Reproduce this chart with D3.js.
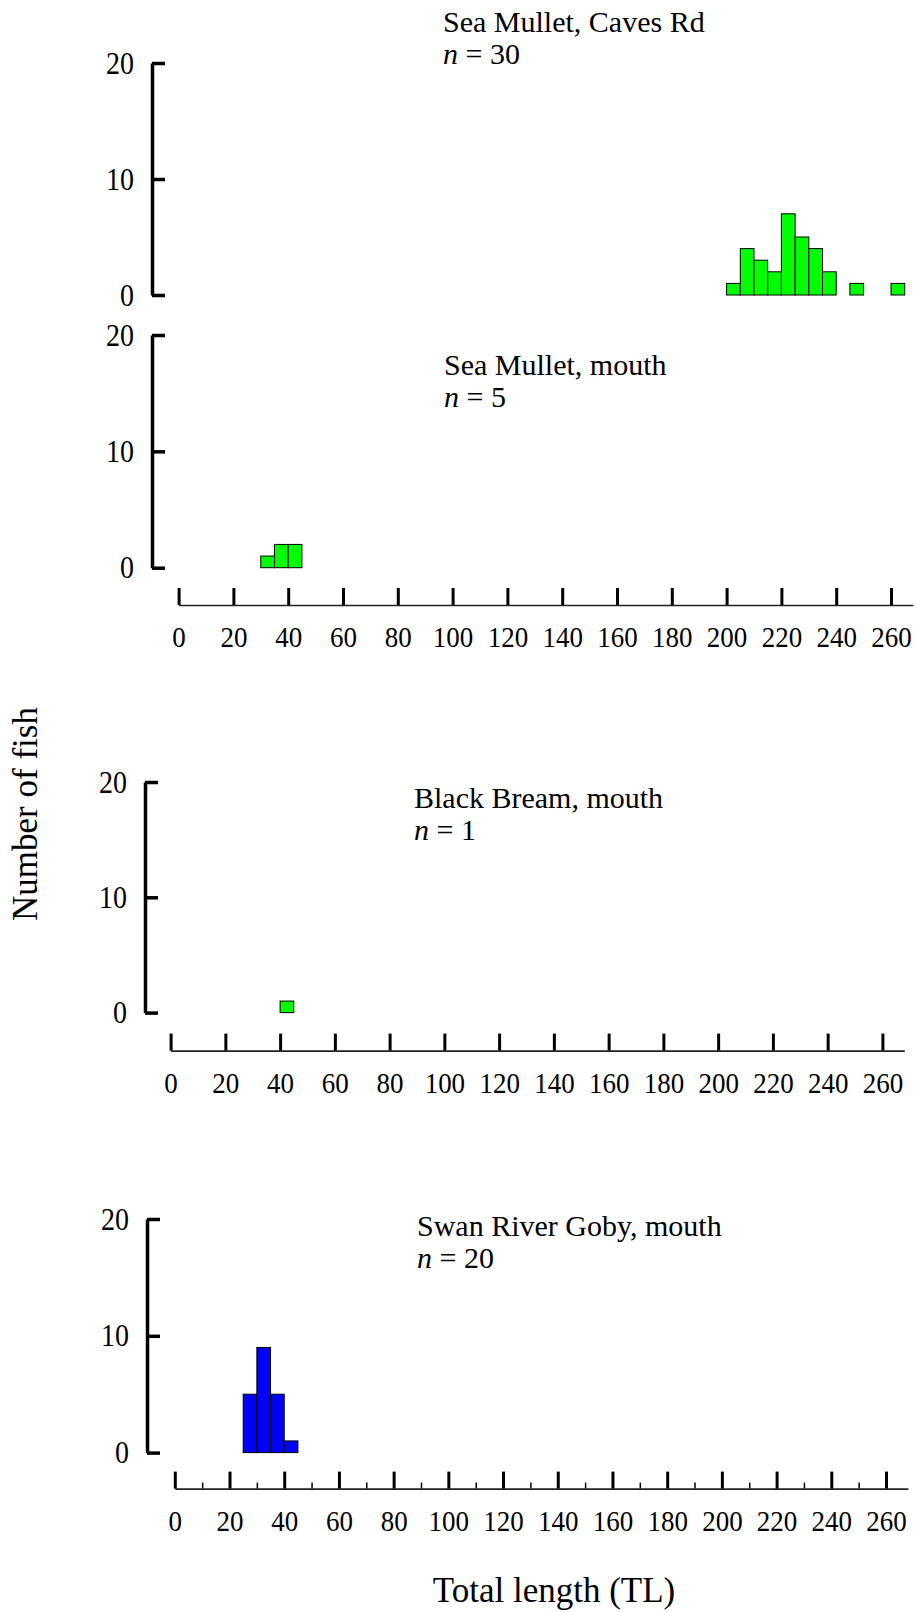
<!DOCTYPE html>
<html>
<head>
<meta charset="utf-8">
<script src="https://cdn.jsdelivr.net/npm/d3@7"></script>
<style>
  body { margin: 0; background: #fff; }
  svg text { font-family: "Liberation Serif", "Times New Roman", serif; fill: #000; }
</style>
</head>
<body>
<div id="chart"></div>
<script>
// length-frequency data, 5 mm bins (bin start -> number of fish)
const binWidth = 5;
const cavesRdBins = [200, 205, 210, 215, 220, 225, 230, 235, 245, 260];
const cavesRdCounts = [1, 4, 3, 2, 7, 5, 4, 2, 1, 1];
const mulletMouthBins = [30, 35, 40];
const mulletMouthCounts = [1, 2, 2];
const breamMouthBins = [40];
const breamMouthCounts = [1];
const gobyMouthBins = [25, 30, 35, 40];
const gobyMouthCounts = [5, 9, 5, 1];

const panelTitles = ["Sea Mullet, Caves Rd", "Sea Mullet, mouth", "Black Bream, mouth", "Swan River Goby, mouth"];
const panelN = [30, 5, 1, 20];
const xTicks = [0, 20, 40, 60, 80, 100, 120, 140, 160, 180, 200, 220, 240, 260];
const xMinorTicks = [10, 30, 50, 70, 90, 110, 130, 150, 170, 190, 210, 230, 250];
const yTicks = [0, 10, 20];

const width = 916, height = 1612;

// page layout for each panel
const panels = [
  { bins: cavesRdBins, counts: cavesRdCounts, color: "#00ff00", yAxisX: 152, y0: 295, y20: 63, x0: 178.6, x260: 891, xAxisY: null, minor: false, titleX: 443, titleY: 32 },
  { bins: mulletMouthBins, counts: mulletMouthCounts, color: "#00ff00", yAxisX: 152, y0: 567.7, y20: 335, x0: 178.6, x260: 891, xAxisY: 605, minor: false, titleX: 444, titleY: 375 },
  { bins: breamMouthBins, counts: breamMouthCounts, color: "#00ff00", yAxisX: 145, y0: 1012.6, y20: 782, x0: 170.6, x260: 882.4, xAxisY: 1050.6, minor: false, titleX: 414, titleY: 808 },
  { bins: gobyMouthBins, counts: gobyMouthCounts, color: "#0000ff", yAxisX: 147, y0: 1452.6, y20: 1219, x0: 174.8, x260: 886, xAxisY: 1488.6, minor: true, titleX: 417, titleY: 1236 }
];

const svg = d3.select("#chart").append("svg")
  .attr("width", width)
  .attr("height", height);

panels.forEach(function(p, i) {
  const k = (p.x260 - p.x0) / 260;
  const x = d3.scaleLinear().domain([0, 268]).range([p.x0, p.x0 + 268 * k]);
  const y = d3.scaleLinear().domain([0, 20]).range([p.y0, p.y20]);

  const g = svg.append("g").attr("class", "panel");

  // bars
  g.selectAll("rect.bar")
    .data(p.bins.map(function(b, j) { return { start: b, count: p.counts[j] }; }))
    .enter().append("rect")
    .attr("class", "bar")
    .attr("x", function(d) { return x(d.start); })
    .attr("y", function(d) { return y(d.count); })
    .attr("width", function(d) { return x(d.start + binWidth) - x(d.start); })
    .attr("height", function(d) { return y(0) - y(d.count); })
    .style("fill", p.color)
    .style("stroke", "#000")
    .style("stroke-width", 1);

  // y axis
  const yAxis = g.append("g")
    .attr("transform", "translate(" + p.yAxisX + ",0)")
    .call(d3.axisLeft(y).tickValues(yTicks).tickSizeInner(-13).tickSizeOuter(0).tickPadding(18));
  yAxis.select(".domain").attr("stroke", "#000").attr("stroke-width", 3.5);
  yAxis.selectAll(".tick line").attr("stroke", "#000").attr("stroke-width", 3.5);
  yAxis.selectAll(".tick text")
    .style("font-size", "28px")
    .attr("x", null).attr("dy", null)
    .attr("transform", "translate(-18,10) scale(1,1.1)");

  // x axis
  if (p.xAxisY !== null) {
    if (p.minor) {
      g.append("g")
        .attr("transform", "translate(0," + p.xAxisY + ")")
        .call(d3.axisBottom(x).tickValues(xMinorTicks).tickSizeInner(-6).tickSizeOuter(0).tickFormat(""))
        .call(function(a) {
          a.select(".domain").remove();
          a.selectAll(".tick line").attr("stroke", "#000").attr("stroke-width", 1.5);
        });
    }
    const xAxis = g.append("g")
      .attr("transform", "translate(0," + p.xAxisY + ")")
      .call(d3.axisBottom(x).tickValues(xTicks).tickSizeInner(-17).tickSizeOuter(0));
    xAxis.select(".domain").attr("stroke", "#222").attr("stroke-width", 1.6);
    xAxis.selectAll(".tick line").attr("stroke", "#000").attr("stroke-width", 3);
    xAxis.selectAll(".tick text")
      .style("font-size", "27px")
      .attr("y", null).attr("dy", null)
      .attr("transform", "translate(0,42) scale(1,1.12)");
  }

  // panel title
  g.append("text")
    .attr("x", p.titleX)
    .attr("y", p.titleY)
    .style("font-size", "30px")
    .text(panelTitles[i]);

  const nLabel = g.append("text")
    .attr("x", p.titleX)
    .attr("y", p.titleY + 32)
    .style("font-size", "30px");
  nLabel.append("tspan").style("font-style", "italic").text("n");
  nLabel.append("tspan").text(" = " + panelN[i]);
});

// axis titles
svg.append("text")
  .attr("transform", "translate(37,814) rotate(-90)")
  .attr("text-anchor", "middle")
  .style("font-size", "35px")
  .text("Number of fish");

svg.append("text")
  .attr("x", 554)
  .attr("y", 1602)
  .attr("text-anchor", "middle")
  .style("font-size", "35px")
  .text("Total length (TL)");
</script>
</body>
</html>
